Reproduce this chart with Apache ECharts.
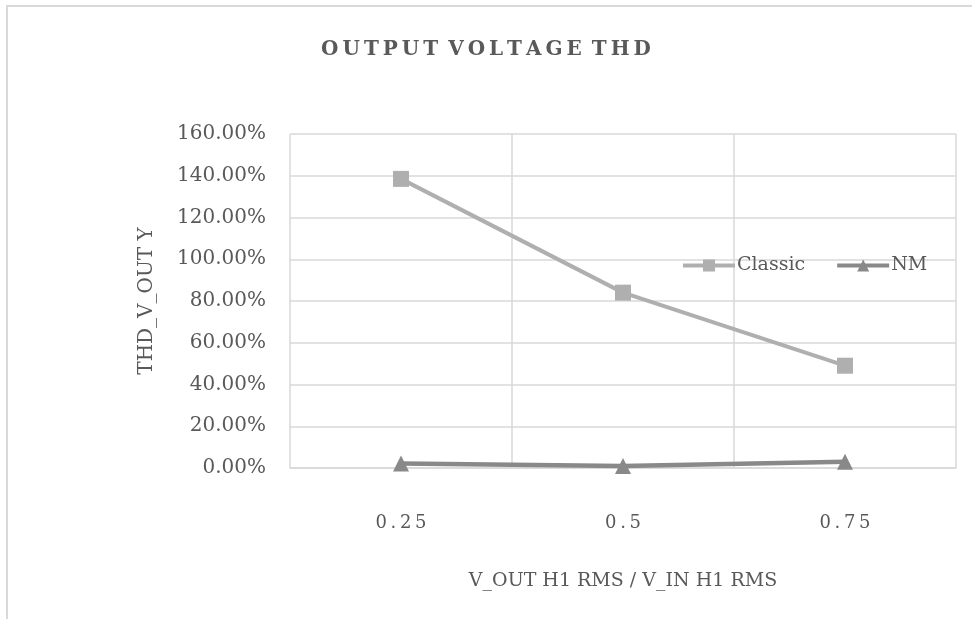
<!DOCTYPE html>
<html>
<head>
<meta charset="utf-8">
<script src="https://cdn.jsdelivr.net/npm/echarts@6/dist/echarts.min.js"></script>
<style>
  html, body { margin: 0; padding: 0; background: #ffffff; }
  #chart { width: 972px; height: 619px; }
</style>
</head>
<body>
<div id="chart"></div>
<script>
// Ratio of output to input fundamental RMS voltage
const categories = ['0.25', '0.5', '0.75'];
// THD of the output voltage, in percent
const classicValues = [138.5, 84.0, 49.0];
const nmValues = [2.1, 1.0, 3.0];
const yTicks = { min: 0, max: 160, interval: 20 };

const TEXT = '#595959';
const GRID_LINE = '#d9d9d9';
const FONT = '"DejaVu Serif", "Liberation Serif", serif';

// spread characters apart with thin spaces
const spread = s => s.split('').join('\u2009');

const chart = echarts.init(document.getElementById('chart'), null, { renderer: 'canvas' });

chart.setOption({
  backgroundColor: '#ffffff',
  animation: false,
  title: {
    text: spread('OUTPUT') + '\u2002' + spread('VOLTAGE') + '\u2002' + spread('THD'),
    left: 'center',
    top: 35,
    textStyle: { color: TEXT, fontFamily: FONT, fontWeight: 'bold', fontSize: 20 }
  },
  graphic: [{
    type: 'rect',
    shape: { x: 7, y: 6, width: 990, height: 700 },
    style: { fill: 'none', stroke: GRID_LINE, lineWidth: 2 },
    silent: true
  }],
  legend: {
    left: 676,
    top: 251,
    itemWidth: 52,
    itemHeight: 15,
    itemGap: 30,
    lineStyle: { width: 4 },
    textStyle: { color: TEXT, fontFamily: FONT, fontSize: 19, padding: [0, 0, 0, -3] },
    data: ['Classic', 'NM']
  },
  grid: { left: 290, right: 16, top: 134, bottom: 151, containLabel: false },
  xAxis: {
    type: 'category',
    data: categories,
    boundaryGap: true,
    name: 'V_OUT H1 RMS / V_IN H1 RMS',
    nameLocation: 'middle',
    nameGap: 104,
    nameTextStyle: { color: TEXT, fontFamily: FONT, fontSize: 19 },
    axisLine: { show: true, lineStyle: { color: GRID_LINE, width: 1.5 } },
    axisTick: { show: false },
    axisLabel: {
      color: TEXT, fontFamily: FONT, fontSize: 18, margin: 46,
      formatter: v => spread(v)
    },
    splitLine: { show: true, lineStyle: { color: GRID_LINE, width: 1.5 } }
  },
  yAxis: {
    type: 'value',
    min: yTicks.min,
    max: yTicks.max,
    interval: yTicks.interval,
    name: 'THD_V_OUT Y',
    nameLocation: 'middle',
    nameGap: 133,
    nameTextStyle: { color: TEXT, fontFamily: FONT, fontSize: 20 },
    axisLine: { show: false },
    axisTick: { show: false },
    axisLabel: {
      color: TEXT, fontFamily: FONT, fontSize: 20, margin: 24,
      formatter: v => v.toFixed(2) + '%'
    },
    splitLine: { show: true, lineStyle: { color: GRID_LINE, width: 1.5 } }
  },
  series: [
    {
      name: 'Classic',
      type: 'line',
      data: classicValues,
      symbol: 'rect',
      symbolSize: 16,
      lineStyle: { color: '#afafaf', width: 4 },
      itemStyle: { color: '#afafaf' }
    },
    {
      name: 'NM',
      type: 'line',
      data: nmValues,
      symbol: 'triangle',
      symbolSize: 16,
      lineStyle: { color: '#898989', width: 4.5 },
      itemStyle: { color: '#898989' }
    }
  ]
});
</script>
</body>
</html>
